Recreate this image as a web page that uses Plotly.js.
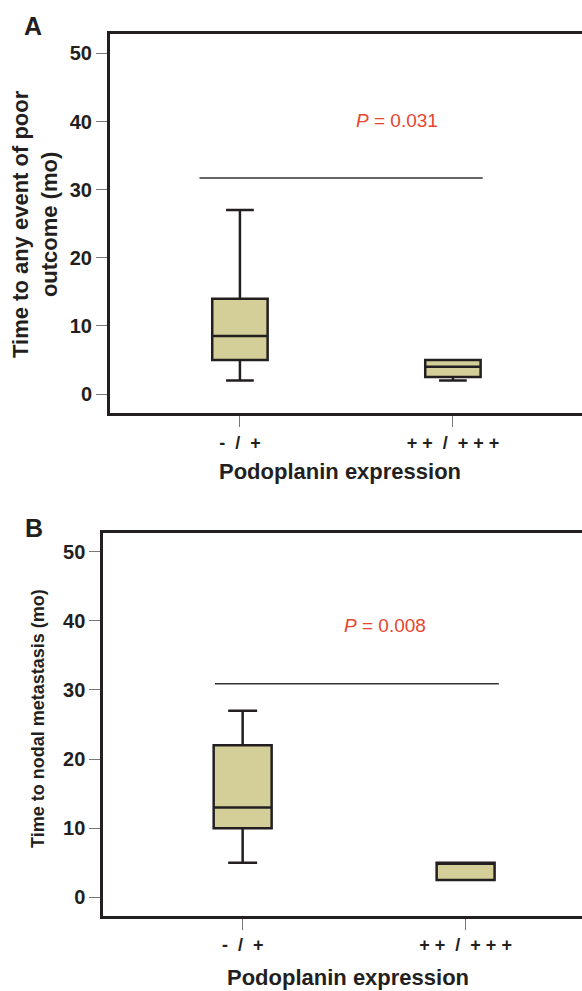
<!DOCTYPE html>
<html>
<head>
<meta charset="utf-8">
<script src="https://cdn.plot.ly/plotly-3.0.1.min.js"></script>
<style>html,body{margin:0;padding:0;background:#fff;}#chart{width:582px;height:991px;}</style>
</head>
<body>
<div id="chart"></div>
<script>
// ---- data ----
const categories = ["- / +", "++ / +++"];
const catPos = [0, 1];
const tickText = ["-\u00a0\u00a0/\u00a0\u00a0+", "+\u00a0+\u00a0\u00a0/\u00a0\u00a0+\u00a0+\u00a0+"];
const yTicks = [0, 10, 20, 30, 40, 50];

// Panel A: time to any event of poor outcome (mo)
const q1A = [5, 2.5];
const medA = [8.5, 4];
const q3A = [14, 5];
const loA = [2, 2];
const hiA = [27, 5];

// Panel B: time to nodal metastasis (mo)
const q1B = [10, 2.5];
const medB = [13, 5];
const q3B = [22, 5];
const loB = [5, 2.5];
const hiB = [27, 5];

// significance bars and P values
const sigXA = [-0.19, 1.14];
const sigYA = [31.7, 31.7];
const sigXB = [-0.124, 1.149];
const sigYB = [30.9, 30.9];
const pTextA = "<i>P</i> = 0.031";
const pTextB = "<i>P</i> = 0.008";
const pPosA = [0.737, 40.1];
const pPosB = [0.638, 39.4];

// ---- style ----
const ink = "#231f20";
const fill = "#d4cf98";
const red = "#e8452f";
const FONT = "Liberation Sans, Arial, Helvetica, sans-serif";
const W = 582, H = 991;
const px = v => v / W;
const py = v => 1 - v / H;

function boxTrace(q1, med, q3, lo, hi, xa, ya) {
  return {
    type: "box", x: catPos, q1: q1, median: med, q3: q3,
    lowerfence: lo, upperfence: hi, width: 0.26, whiskerwidth: 0.5,
    fillcolor: fill, line: {color: ink, width: 2.5},
    boxpoints: false, hoverinfo: "skip", showlegend: false,
    xaxis: xa, yaxis: ya, name: ""
  };
}

const traces = [
  boxTrace(q1A, medA, q3A, loA, hiA, "x", "y"),
  boxTrace(q1B, medB, q3B, loB, hiB, "x2", "y2"),
  {type: "scatter", mode: "lines", x: sigXA, y: sigYA, line: {color: "#333", width: 1.5},
   xaxis: "x", yaxis: "y", hoverinfo: "skip", showlegend: false},
  {type: "scatter", mode: "lines", x: sigXB, y: sigYB, line: {color: "#333", width: 1.5},
   xaxis: "x2", yaxis: "y2", hoverinfo: "skip", showlegend: false}
];

function xAxis(domain, range, anchor) {
  return {
    domain: domain, range: range, anchor: anchor,
    tickmode: "array", tickvals: catPos, ticktext: tickText,
    ticks: "outside", ticklen: 11, tickwidth: 1, tickcolor: "#777",
    tickfont: {family: FONT, size: 18, color: ink, weight: "bold"},
    showline: true, mirror: true, linewidth: 3, linecolor: ink,
    showgrid: false, zeroline: false, fixedrange: true
  };
}
function yAxis(domain, range, anchor) {
  return {
    domain: domain, range: range, anchor: anchor,
    tickmode: "array", tickvals: yTicks,
    ticks: "outside", ticklen: 11, tickwidth: 1, tickcolor: "#777",
    tickfont: {family: FONT, size: 20, color: ink, weight: "bold"},
    showline: true, linewidth: 3, linecolor: ink,
    showgrid: false, zeroline: false, fixedrange: true
  };
}

const ann = (text, x, y, size, opts) => Object.assign({
  text: text, xref: "paper", yref: "paper", x: x, y: y,
  xanchor: "center", yanchor: "middle", showarrow: false,
  font: {family: FONT, size: size, color: ink, weight: "bold"}
}, opts || {});

const layout = {
  width: W, height: H,
  margin: {l: 0, r: 0, t: 0, b: 0},
  paper_bgcolor: "#fff", plot_bgcolor: "#fff",
  showlegend: false,
  xaxis: xAxis([px(110), 1], [-0.610, 1.606], "y"),
  yaxis: yAxis([py(413), py(34)], [-2.79, 52.86], "x"),
  xaxis2: xAxis([px(103.3), 1], [-0.625, 1.522], "y2"),
  yaxis2: yAxis([py(915.5), py(532.7)], [-2.63, 52.76], "x2"),
  annotations: [
    ann("A", px(33), py(26), 25),
    ann("B", px(34), py(528), 25),
    ann("Time to any event of poor<br>outcome (mo)", px(35), py(224), 22, {textangle: -90}),
    ann("Time to nodal metastasis (mo)", px(38), py(719), 18, {textangle: -90}),
    ann("Podoplanin expression", px(340), py(471), 22),
    ann("Podoplanin expression", px(348), py(977), 22),
    {text: pTextA, xref: "x", yref: "y", x: pPosA[0], y: pPosA[1], showarrow: false,
     xanchor: "center", yanchor: "middle", font: {family: FONT, size: 19, color: red}},
    {text: pTextB, xref: "x2", yref: "y2", x: pPosB[0], y: pPosB[1], showarrow: false,
     xanchor: "center", yanchor: "middle", font: {family: FONT, size: 19, color: red}}
  ]
};

Plotly.newPlot("chart", traces, layout, {staticPlot: true, displayModeBar: false});
</script>
</body>
</html>
